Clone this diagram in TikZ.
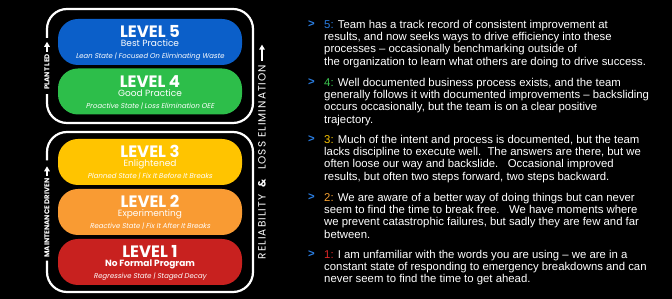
\documentclass[tikz,border=0pt]{standalone}
\usepackage{fontspec}
\setmainfont{Liberation Sans}
\newfontfamily\popfont{Poppins}
\newfontfamily\popslant[FakeSlant=0.2]{Poppins}
\newfontfamily\popwide[LetterSpace=10]{Poppins}
\usepackage{xcolor}
\usetikzlibrary{arrows.meta,positioning}
\definecolor{lvblue}{HTML}{0B5FC9}
\definecolor{lvgreen}{HTML}{2DBE4A}
\definecolor{lvyellow}{HTML}{FFC400}
\definecolor{lvorange}{HTML}{F99B33}
\definecolor{lvred}{HTML}{C8211F}
\definecolor{numblue}{HTML}{2A7DE1}
\definecolor{numgreen}{HTML}{3CC850}
\definecolor{numyellow}{HTML}{F8C400}
\definecolor{numorange}{HTML}{F5A030}
\definecolor{numred}{HTML}{E02828}

\begin{document}
\begin{tikzpicture}[x=1pt,y=1pt,
  levelpill/.style={rounded corners=20pt,minimum width=184pt,minimum height=46pt,inner sep=0pt},
  leveltitle/.style={anchor=base,inner sep=0pt,text=white,font=\popfont\bfseries\fontsize{16.5}{17}\selectfont},
  levelname/.style={anchor=base,inner sep=0pt,text=white,font=\popfont\fontsize{9}{10}\selectfont},
  levelstate/.style={anchor=base,inner sep=0pt,text=white,font=\popslant\fontsize{7}{8}\selectfont},
  sidelabel/.style={rotate=90,inner sep=0pt,text=white,font=\popfont\bfseries\fontsize{7}{8}\selectfont},
  bracket/.style={draw=white,line width=2.2pt,rounded corners=20pt},
  uparrow/.style={draw=white,line width=1.6pt,-{Triangle[width=5.5pt,length=5pt]}},
  itemtext/.style={anchor=north west,align=left,inner sep=0pt,text=white,font=\fontsize{11.35}{12.25}\selectfont},
  itembullet/.style={anchor=base east,inner sep=0pt,text=numblue,font=\bfseries\fontsize{11.35}{12}\selectfont}]
  \fill[black] (0,0) rectangle (672,299);
  \useasboundingbox (0,0) rectangle (672,299);

  \node[levelpill,fill=lvblue] (lv5) at (150,257) {};
  \node[leveltitle] (lv5title) at ([yshift=4pt]lv5.center) {LEVEL 5};
  \node[levelname] (lv5name) at ([yshift=-5pt]lv5.center) {Best Practice};
  \node[levelstate] (lv5state) at ([yshift=-17pt]lv5.center) {Lean State | Focused On Eliminating Waste};

  \node[levelpill,fill=lvgreen] (lv4) at (150,207.5) {};
  \node[leveltitle] (lv4title) at ([yshift=4pt]lv4.center) {LEVEL 4};
  \node[levelname] (lv4name) at ([yshift=-5pt]lv4.center) {Good Practice};
  \node[levelstate] (lv4state) at ([yshift=-17pt]lv4.center) {Proactive State | Loss Elimination OEE};

  \node[levelpill,fill=lvyellow] (lv3) at (150,137) {};
  \node[leveltitle] (lv3title) at ([yshift=4pt]lv3.center) {LEVEL 3};
  \node[levelname] (lv3name) at ([yshift=-5pt]lv3.center) {Enlightened};
  \node[levelstate] (lv3state) at ([yshift=-17pt]lv3.center) {Planned State | Fix It Before It Breaks};

  \node[levelpill,fill=lvorange] (lv2) at (150,87) {};
  \node[leveltitle] (lv2title) at ([yshift=4pt]lv2.center) {LEVEL 2};
  \node[levelname] (lv2name) at ([yshift=-5pt]lv2.center) {Experimenting};
  \node[levelstate] (lv2state) at ([yshift=-17pt]lv2.center) {Reactive State | Fix It After It Breaks};

  \node[levelpill,fill=lvred] (lv1) at (150,37) {};
  \node[leveltitle] (lv1title) at ([yshift=4pt]lv1.center) {LEVEL 1};
  \node[levelname,font=\popfont\bfseries\fontsize{9}{10}\selectfont] (lv1name) at ([yshift=-5pt]lv1.center) {No Formal Program};
  \node[levelstate] (lv1state) at ([yshift=-17pt]lv1.center) {Regressive State | Staged Decay};

  \node[sidelabel] (plantled) at (47,227) {PLANT LED};
  \draw[uparrow] ([yshift=2pt]plantled.east) -- ++(0,10);
  \draw[bracket] ([yshift=16pt]plantled.east) -- (47,290) -- (253,290) -- (253,176) -- (47,176) -- ([yshift=-4pt]plantled.west);

  \node[sidelabel] (maintdriven) at (47,81) {MAINTENANCE DRIVEN};
  \draw[uparrow] ([yshift=2pt]maintdriven.east) -- ++(0,10);
  \draw[bracket] ([yshift=18pt]maintdriven.east) -- (47,167) -- (253,167) -- (253,7) -- (47,7) -- ([yshift=-3pt]maintdriven.west);

  \node[sidelabel,font=\popwide\fontsize{10.5}{11}\selectfont] (reliab) at (262,137) {RELIABILITY\ \ \textbf{\&}\ \ LOSS ELIMINATION};
  \draw[uparrow] ([yshift=4pt]reliab.east) -- ++(0,16);

  \node[itemtext] (item5) at (324,279) {\textcolor{numblue}{5:} Team has a track record of consistent improvement at\\
    results, and now seeks ways to drive efficiency into these\\
    processes – occasionally benchmarking outside of\\
    the organization to learn what others are doing to drive success.};
  \node[itembullet] (bullet5) at ([xshift=-9pt,yshift=-8pt]item5.north west) {>};

  \node[itemtext] (item4) at (324,221) {\textcolor{numgreen}{4:} Well documented business process exists, and the team\\
    generally follows it with documented improvements – backsliding\\
    occurs occasionally, but the team is on a clear positive\\
    trajectory.};
  \node[itembullet] (bullet4) at ([xshift=-9pt,yshift=-8pt]item4.north west) {>};

  \node[itemtext] (item3) at (324,164) {\textcolor{numyellow}{3:} Much of the intent and process is documented, but the team\\
    lacks discipline to execute well.\ \ The answers are there, but we\\
    often loose our way and backslide.\ \ \ Occasional improved\\
    results, but often two steps forward, two steps backward.};
  \node[itembullet] (bullet3) at ([xshift=-9pt,yshift=-8pt]item3.north west) {>};

  \node[itemtext] (item2) at (324,106) {\textcolor{numorange}{2:} We are aware of a better way of doing things but can never\\
    seem to find the time to break free.\ \ \ We have moments where\\
    we prevent catastrophic failures, but sadly they are few and far\\
    between.};
  \node[itembullet] (bullet2) at ([xshift=-9pt,yshift=-8pt]item2.north west) {>};

  \node[itemtext] (item1) at (324,49) {\textcolor{numred}{1:} I am unfamiliar with the words you are using – we are in a\\
    constant state of responding to emergency breakdowns and can\\
    never seem to find the time to get ahead.};
  \node[itembullet] (bullet1) at ([xshift=-9pt,yshift=-8pt]item1.north west) {>};
\end{tikzpicture}
\end{document}
